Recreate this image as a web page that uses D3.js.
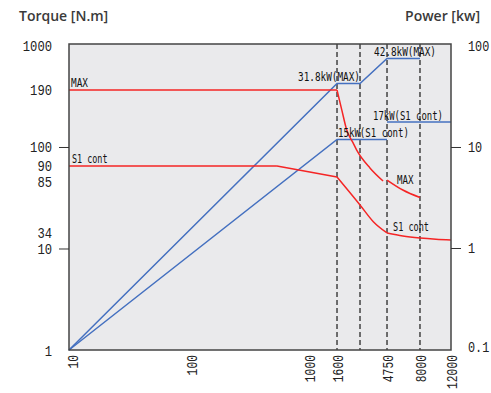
<!DOCTYPE html>
<html>
<head>
<meta charset="utf-8">
<script src="https://cdn.jsdelivr.net/npm/d3@7"></script>
<style>
body { margin: 0; background: #fff; }
</style>
</head>
<body>
<div id="chart"></div>
<script>
// speed axis [rpm]
const speedTicks = [10, 100, 1000, 1600, 4750, 8000, 12000];
const speedStops = [10, 100, 1000, 1600, 2400, 4750, 8000, 12000];
const dashedSpeeds = [1600, 2400, 4750, 8000];

// torque axis [N.m] and power axis [kW]
const torqueTicks = [1, 10, 34, 85, 90, 100, 190, 1000];
const torqueMarks = [10, 100];
const powerTicks = [0.1, 1, 10, 100];
const powerMarks = [1, 10];
const powerStops = [0.1, 1, 10, 15, 17, 31.8, 42.8, 100];

// torque curves, [speed, torque], one array per drawn segment
const maxTorque = [
    [[10, 190], [1600, 190]],
    [[1600, 190], [1740, 152], [1900, 121], [2120, 105], [2264, 98.3], [3100, 89], [4300, 79.6]],
    [[4750, 80.9], [6100, 68.7], [8000, 60.8]]
];
const contTorque = [
    [[10, 90], [535, 90]],
    [[535, 90], [1600, 85]],
    [[1600, 85], [2400, 53.8], [3360, 40.9], [4750, 34]],
    [[4750, 34], [6100, 26.8], [8000, 22.9], [9860, 20.8], [12000, 19.6]]
];

// power curves, [speed, kW]
const maxPower = [
    [[10, 0.1], [1600, 31.8], [2400, 31.8], [4750, 42.8], [8000, 42.8]]
];
const contPower = [
    [[10, 0.1], [1600, 15], [4750, 15]],
    [[4750, 17], [12000, 17]]
];

const W = 491, H = 393;
const plot = { left: 69, right: 451, top: 44, bottom: 350 };
const pw = plot.right - plot.left, ph = plot.bottom - plot.top;

// the printed axes are not uniform: every stop sits at its own place (share of the plot box)
const xShare = [0, 0.3194, 0.6283, 0.7016, 0.7618, 0.8325, 0.9188, 1];
const torqueShare = [0, 0.3317, 0.3824, 0.5654, 0.6013, 0.6634, 0.8497, 1];
const powerShare = [0, 0.3333, 0.6634, 0.6879, 0.7451, 0.8709, 0.9526, 1];

const x = d3.scaleLog().domain(speedStops).range(xShare.map(f => plot.left + f * pw));
const yT = d3.scaleLog().domain(torqueTicks).range(torqueShare.map(f => plot.bottom - f * ph));
const yP = d3.scaleLog().domain(powerStops).range(powerShare.map(f => plot.bottom - f * ph));

const svg = d3.select('#chart').append('svg')
    .attr('width', W)
    .attr('height', H);

const MONO = '"Liberation Mono", "DejaVu Sans Mono", monospace';

function squeeze(sel, pitch) {
    sel.attr('textLength', d => String(d).length * pitch)
        .attr('lengthAdjust', 'spacingAndGlyphs');
}

svg.append('rect')
    .attr('x', plot.left).attr('y', plot.top)
    .attr('width', pw).attr('height', ph)
    .attr('fill', '#eaeaec');

svg.append('g').selectAll('line')
    .data(dashedSpeeds)
    .join('line')
    .attr('x1', d => x(d)).attr('x2', d => x(d))
    .attr('y1', plot.top).attr('y2', plot.bottom)
    .attr('stroke', '#4d4d4d')
    .attr('stroke-width', 1.6)
    .attr('stroke-dasharray', '5,3');

let torqueLine = d3.line().x(d => x(d[0])).y(d => yT(d[1])).curve(d3.curveMonotoneX);
let powerLine = d3.line().x(d => x(d[0])).y(d => yP(d[1]));

svg.append('g').selectAll('path')
    .data(maxPower.concat(contPower))
    .join('path')
    .attr('d', powerLine)
    .attr('fill', 'none')
    .attr('stroke', '#4470c0')
    .attr('stroke-width', 1.5);

svg.append('g').selectAll('path')
    .data(maxTorque.concat(contTorque))
    .join('path')
    .attr('d', torqueLine)
    .attr('fill', 'none')
    .attr('stroke', '#f52525')
    .attr('stroke-width', 1.5);

// frame
svg.append('rect')
    .attr('x', plot.left).attr('y', plot.top)
    .attr('width', pw).attr('height', ph)
    .attr('fill', 'none')
    .attr('stroke', '#444')
    .attr('stroke-width', 1.5);

// left axis
let leftNudge = { 1000: 2, 85: 5, 1: 1 };
let leftAxis = svg.append('g')
    .attr('transform', `translate(${plot.left},0)`)
    .call(d3.axisLeft(yT).tickValues(torqueTicks).tickFormat(d => String(d)).tickSize(10).tickPadding(7));
leftAxis.select('.domain').remove();
leftAxis.selectAll('.tick line').filter(d => !torqueMarks.includes(d)).remove();
leftAxis.selectAll('.tick line').attr('stroke', '#333');
leftAxis.selectAll('.tick text')
    .attr('font-family', MONO).attr('font-size', 15).attr('fill', '#222')
    .attr('y', d => leftNudge[d] || 0)
    .call(squeeze, 7.3);

// right axis
let rightNudge = { 100: 2, 0.1: -3 };
let rightAxis = svg.append('g')
    .attr('transform', `translate(${plot.right},0)`)
    .call(d3.axisRight(yP).tickValues(powerTicks).tickFormat(d => String(d)).tickSize(10).tickPadding(7));
rightAxis.select('.domain').remove();
rightAxis.selectAll('.tick line').filter(d => !powerMarks.includes(d)).remove();
rightAxis.selectAll('.tick line').attr('stroke', '#333');
rightAxis.selectAll('.tick text')
    .attr('font-family', MONO).attr('font-size', 15).attr('fill', '#222')
    .attr('y', d => rightNudge[d] || 0)
    .call(squeeze, 7.1);

// bottom axis, labels standing upright
let bottomAxis = svg.append('g')
    .attr('transform', `translate(0,${plot.bottom})`)
    .call(d3.axisBottom(x).tickValues(speedTicks).tickFormat(d => String(d)).tickSize(0));
bottomAxis.select('.domain').remove();
bottomAxis.selectAll('.tick text')
    .attr('font-family', MONO).attr('font-size', 15).attr('fill', '#222')
    .attr('transform', 'rotate(-90)')
    .attr('text-anchor', 'end')
    .attr('x', -5).attr('y', d => d === 10 ? 3 : 0).attr('dy', '0.36em')
    .call(squeeze, 6.8);

// curve notes
let notes = [
    { text: 'MAX', x: plot.left + 2, y: yT(190) - 3, w: 17 },
    { text: 'S1 cont', x: plot.left + 3, y: yT(90) - 3, w: 35.5 },
    { text: 'MAX', x: x(4750) + 10, y: yT(80.9) + 4, w: 16.5 },
    { text: 'S1 cont', x: x(4750) + 6, y: yT(34) - 2, w: 36 },
    { text: '31.8kW(MAX)', x: x(2400), y: yP(31.8) - 3, w: 62, anchor: 'end' },
    { text: '42.8kW(MAX)', x: x(4750) - 13, y: yP(42.8) - 3, w: 62 },
    { text: '17kW(S1 cont)', x: x(4750) - 14, y: yP(17) - 2, w: 70 },
    { text: '15kW(S1 cont)', x: x(1600) + 1, y: yP(15) - 2.5, w: 71 }
];
svg.append('g').selectAll('text')
    .data(notes)
    .join('text')
    .attr('x', d => d.x)
    .attr('y', d => d.y)
    .attr('text-anchor', d => d.anchor || 'start')
    .attr('font-family', '"DejaVu Sans Mono", monospace')
    .attr('font-size', 12)
    .attr('fill', '#111')
    .attr('textLength', d => d.w)
    .attr('lengthAdjust', 'spacingAndGlyphs')
    .text(d => d.text);

// axis titles
svg.append('text')
    .attr('x', 19).attr('y', 21)
    .attr('font-family', '"Open Sans", sans-serif')
    .attr('font-size', 14).attr('font-weight', 600)
    .attr('fill', '#3a3a3a')
    .text('Torque [N.m]');
svg.append('text')
    .attr('x', 480).attr('y', 21)
    .attr('text-anchor', 'end')
    .attr('font-family', '"Open Sans", sans-serif')
    .attr('font-size', 14).attr('font-weight', 600)
    .attr('fill', '#3a3a3a')
    .text('Power [kw]');
</script>
</body>
</html>
